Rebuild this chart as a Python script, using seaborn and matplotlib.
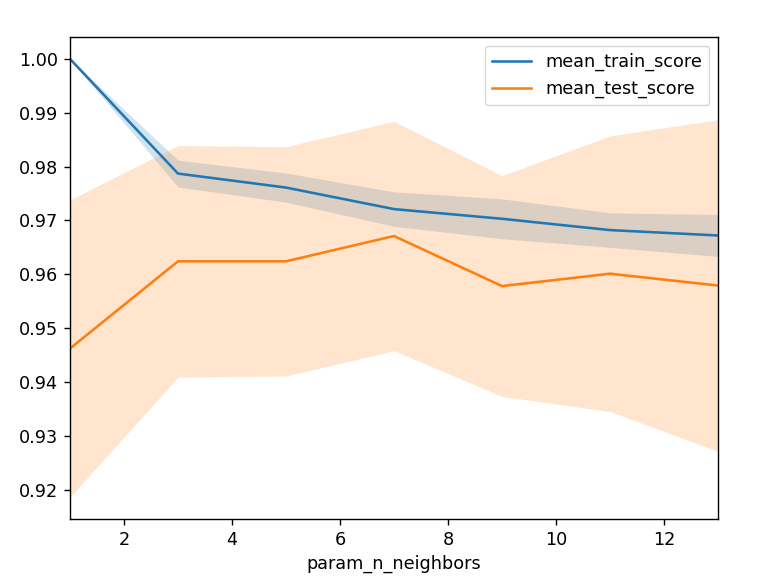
import numpy as np
import pandas as pd
import matplotlib
matplotlib.use("Agg")
import matplotlib.pyplot as plt
import seaborn as sns

param_n_neighbors = [1, 3, 5, 7, 9, 11, 13]
mean_train_score = [1.0000, 0.9787, 0.9761, 0.9721, 0.9703, 0.9682, 0.9672]
std_train_score = [0.0000, 0.0025, 0.0027, 0.0032, 0.0037, 0.0032, 0.0039]
mean_test_score = [0.9462, 0.9624, 0.9624, 0.9671, 0.9578, 0.9601, 0.9579]
std_test_score = [0.0276, 0.0215, 0.0213, 0.0213, 0.0205, 0.0256, 0.0308]

df = pd.DataFrame({
    "param_n_neighbors": param_n_neighbors,
    "mean_train_score": mean_train_score,
    "std_train_score": std_train_score,
    "mean_test_score": mean_test_score,
    "std_test_score": std_test_score,
})

plt.rcParams["font.size"] = 12.7
plt.rcParams["xtick.major.size"] = 4.4
plt.rcParams["ytick.major.size"] = 4.4
plt.rcParams["xtick.major.pad"] = 4.2
plt.rcParams["ytick.major.pad"] = 4.2
plt.rcParams["axes.linewidth"] = 1.0
plt.rcParams["xtick.major.width"] = 1.0
plt.rcParams["ytick.major.width"] = 1.0
fig = plt.figure(figsize=(7.62, 5.81), dpi=100)
ax = fig.add_axes([70/762, 1-519/581, (718-70)/762, (519-37)/581])

colors = ["tab:blue", "tab:orange"]
for name, c in zip(["train", "test"], colors):
    m = df[f"mean_{name}_score"]
    s = df[f"std_{name}_score"]
    sns.lineplot(data=df, x="param_n_neighbors", y=f"mean_{name}_score",
                 ax=ax, color=c, linewidth=1.85, label=f"mean_{name}_score")
    ax.fill_between(df["param_n_neighbors"], m - s, m + s, color=c, alpha=0.2, linewidth=0)

ax.set_xlim(1, 13)
ax.set_ylabel("")
ax.set_xlabel("param_n_neighbors")
ax.legend(loc="upper right", handlelength=2.2)
fig.savefig("out.png", dpi=100)
